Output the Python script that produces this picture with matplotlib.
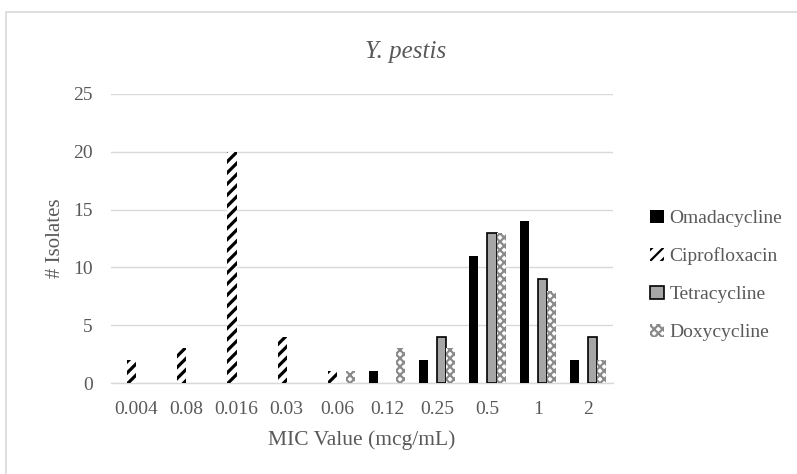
import matplotlib
matplotlib.use("Agg")
import matplotlib.pyplot as plt
import numpy as np
from matplotlib.patches import Rectangle

categories = ["0.004", "0.08", "0.016", "0.03", "0.06", "0.12", "0.25", "0.5", "1", "2"]
omadacycline = [0, 0, 0, 0, 0, 1, 2, 11, 14, 2]
ciprofloxacin = [2, 3, 20, 4, 1, 0, 0, 0, 0, 0]
tetracycline = [0, 0, 0, 0, 0, 0, 4, 13, 9, 4]
doxycycline = [0, 0, 0, 0, 1, 3, 3, 13, 8, 2]
series_names = ["Omadacycline", "Ciprofloxacin", "Tetracycline", "Doxycycline"]

plt.rcParams['font.family'] = ['Liberation Serif', 'DejaVu Serif']

txt = '#595959'
fig = plt.figure(figsize=(7.97, 4.74), dpi=100)
fig.patches.append(Rectangle((6/797, -0.1), 1.2, 1 - 12/474 + 0.1, transform=fig.transFigure,
                             fill=False, edgecolor='#d9d9d9', linewidth=1.2, zorder=0))
ax = fig.add_axes([111/797, 1 - 383/474, (613-111)/797, (383-94)/474])

x = np.arange(len(categories))
w = 0.18
offs = [-1.5*w, -0.5*w, 0.5*w, 1.5*w]
ax.bar(x + offs[0], omadacycline, w, color='black', linewidth=0, label=series_names[0], zorder=3)
plt.rcParams['hatch.linewidth'] = 2.3
ax.bar(x + offs[1], ciprofloxacin, w, facecolor='white', edgecolor='black', hatch='///',
       linewidth=0, label=series_names[1], zorder=3)
ax.bar(x + offs[2], tetracycline, w, facecolor='#a6a6a6', edgecolor='black',
       linewidth=[1.2 if v > 0 else 0 for v in tetracycline],
       label=series_names[2], zorder=3)
plt.rcParams['hatch.linewidth'] = 1.6
ax.bar(x + offs[3], doxycycline, w, facecolor='white', edgecolor='#8a8a8a', hatch='xxxx',
       linewidth=0, label=series_names[3], zorder=3)

ax.set_xlim(-0.5, len(categories) - 0.5)
ax.set_ylim(0, 25)
ax.set_yticks(range(0, 26, 5))
ax.set_xticks(x)
ax.set_xticklabels(categories)
ax.grid(axis='y', color='#d9d9d9', linewidth=1, zorder=0)
ax.set_axisbelow(True)
for s in ['top', 'right', 'left']:
    ax.spines[s].set_visible(False)
ax.spines['bottom'].set_color('#d9d9d9')
ax.spines['bottom'].set_linewidth(1)
ax.tick_params(length=0, labelsize=14, colors=txt)
ax.tick_params(axis='x', pad=13)
ax.tick_params(axis='y', pad=13)

ax.set_xlabel("MIC Value (mcg/mL)", fontsize=15.5, color=txt, labelpad=9)
ax.set_ylabel("# Isolates", fontsize=15, color=txt, labelpad=6)
fig.text(406/797, 1 - 52/474, "Y. pestis", fontsize=18, style='italic', color=txt,
         ha='center', va='center')

leg = ax.legend(loc='center left', bbox_to_anchor=(1.074, 0.372), frameon=False,
                borderpad=0, borderaxespad=0,
                fontsize=14, handlelength=0.7, handleheight=0.7, handletextpad=0.3,
                labelspacing=1.05, labelcolor=txt)
leg.legend_handles[2].set_linewidth(1.2)

fig.savefig("out.png", dpi=100)
